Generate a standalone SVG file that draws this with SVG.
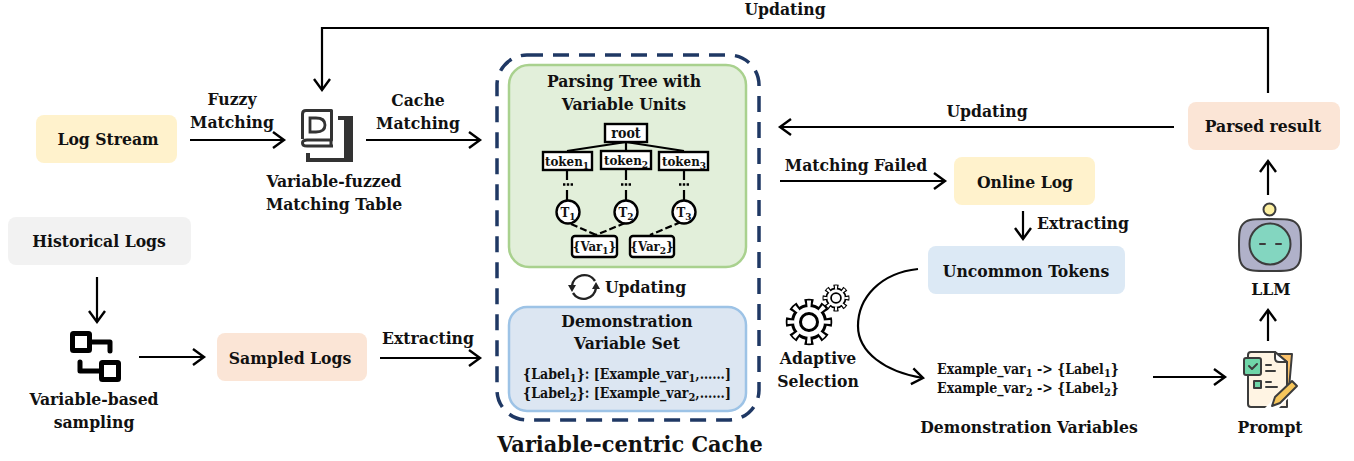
<svg xmlns="http://www.w3.org/2000/svg" width="1354" height="461" viewBox="0 0 1354 461">
<style>
text{font-family:"DejaVu Serif Condensed","DejaVu Serif","Liberation Serif",serif;font-weight:bold;fill:#111;text-anchor:middle;font-size:17.4px}
.s{font-size:10px}
.t{font-size:13.2px}
.e{font-size:14px}
.e .s{font-size:11px}
.conn{fill:none;stroke:#000;stroke-width:2.2;marker-end:url(#a)}
.tree{fill:none;stroke:#000;stroke-width:2.2}
.box{fill:#fff;stroke:#000;stroke-width:2.4}
.ic{stroke:#3c3c3c;stroke-width:2;stroke-linejoin:round;stroke-linecap:round}
</style>
<defs>
<marker id="a" markerUnits="userSpaceOnUse" markerWidth="18" markerHeight="20" refX="14" refY="10" orient="auto"><path d="M3 2 L14 10 L3 18" fill="none" stroke="#000" stroke-width="2.4"/></marker>
<g id="gear">
<circle r="18" fill="#000"/>
<circle r="20" fill="none" stroke="#000" stroke-width="6.5" pathLength="80" stroke-dasharray="5.4 4.6" stroke-dashoffset="2.7"/>
<circle r="15" fill="#fff"/>
<circle r="18" fill="none" stroke="#fff" stroke-width="7" pathLength="80" stroke-dasharray="2.6 7.4" stroke-dashoffset="1.3"/>
<circle r="8.500" fill="#fff" stroke="#000" stroke-width="3"/>
</g>
</defs>
<g id="connectors">
<path class="conn" d="M1268 93V28H322V90"/>
<path class="conn" d="M190 140H284"/>
<path class="conn" d="M366 140H480"/>
<path class="conn" d="M1174 127H780"/>
<path class="conn" d="M780 181H945"/>
<path class="conn" d="M1023 211V239"/>
<path class="conn" d="M97 277V322"/>
<path class="conn" d="M139 357H204"/>
<path class="conn" d="M380 358H480"/>
<path class="conn" d="M918 269C880 273 858 298 858 326C858 352 885 372 923 378"/>
<path class="conn" d="M1153 377H1225"/>
<path class="conn" d="M1268 341V310"/>
<path class="conn" d="M1268 195V161"/>
</g>
<g id="log-stream"><rect x="36" y="115" width="141" height="48" rx="8" fill="#fff2cc"/><text x="108" y="145">Log Stream</text></g>
<g id="historical-logs"><rect x="8" y="217" width="183" height="48" rx="8" fill="#f2f2f2"/><text x="99" y="247">Historical Logs</text></g>
<g id="sampled-logs"><rect x="217" y="333" width="150" height="48" rx="8" fill="#fbe5d6"/><text x="290" y="364">Sampled Logs</text></g>
<g id="online-log"><rect x="954" y="157" width="141" height="48" rx="8" fill="#fff2cc"/><text x="1025" y="188">Online Log</text></g>
<g id="uncommon-tokens"><rect x="928" y="246" width="197" height="48" rx="8" fill="#dce9f5"/><text x="1026" y="277">Uncommon Tokens</text></g>
<g id="parsed-result"><rect x="1188" y="102" width="152" height="48" rx="8" fill="#fbe5d6"/><text x="1263" y="132">Parsed result</text></g>
<g id="labels">
<text x="232" y="105">Fuzzy</text><text x="232" y="128">Matching</text>
<text x="418" y="106">Cache</text><text x="418" y="129">Matching</text>
<text x="785" y="15">Updating</text>
<text x="987" y="117">Updating</text>
<text x="856" y="171">Matching Failed</text>
<text x="1083" y="229">Extracting</text>
<text x="428" y="344">Extracting</text>
</g>
<g id="matching-table">
<path d="M302.500 139V114Q302.500 110.500 306 110.500H331.500V140H307Q302.500 140 302.500 143Q302.500 146 307 146H333" fill="none" stroke="#333" stroke-width="3" stroke-linejoin="round"/>
<path d="M331 140V146" stroke="#333" stroke-width="3" fill="none"/>
<path d="M338 116H353V162H306V153H310V158H344V120H338Z" fill="#333"/>
<path d="M310 118H316Q325 118 325 125Q325 132 316 132H310Z" fill="none" stroke="#333" stroke-width="2.800"/>
<text x="334" y="187">Variable-fuzzed</text><text x="334" y="210">Matching Table</text>
</g>
<g id="variable-sampling">
<rect x="72.500" y="333.500" width="17" height="17" fill="#fff" stroke="#000" stroke-width="5" rx="1"/>
<rect x="101.500" y="362.500" width="17" height="17" fill="#fff" stroke="#000" stroke-width="5" rx="1"/>
<path d="M92 342H110V351M80 362V371H99" fill="none" stroke="#000" stroke-width="5" stroke-linecap="round" stroke-linejoin="round"/>
<text x="94" y="405">Variable-based</text><text x="94" y="428">sampling</text>
</g>
<g id="cache">
<rect x="497" y="55" width="262" height="365" rx="30" fill="none" stroke="#1f3864" stroke-width="3.500" stroke-dasharray="16 10"/>
<text x="630" y="452" style="font-size:23.2px">Variable-centric Cache</text>
</g>
<g id="parsing-tree">
<rect x="509" y="65" width="237" height="202" rx="20" fill="#e2efda" stroke="#a9d18e" stroke-width="2.500"/>
<text x="624" y="87">Parsing Tree with</text><text x="624" y="110">Variable Units</text>
<path class="tree" d="M626 142L567 151M626 142V151M626 142L684 151M567 169V180M567 190V203M626 169V180M626 190V203M684 170V180M684 190V203"/>
<path class="tree" d="M571 224L596 235M625 223L596 235M681 222L650 235" stroke-dasharray="7 3"/>
<path d="M563 184.500h10M621 184.500h10M679 184.500h10" fill="none" stroke="#000" stroke-width="2.600" stroke-dasharray="2.400 1.400"/>
<rect class="box" x="605" y="124" width="42" height="18"/><text x="626" y="138" style="font-size:14px">root</text>
<rect class="box" x="543" y="152" width="49" height="18"/><text class="t" x="567" y="165.500">token<tspan class="s" dy="3">1</tspan></text>
<rect class="box" x="601" y="151" width="50" height="18"/><text class="t" x="626" y="164.500">token<tspan class="s" dy="3">2</tspan></text>
<rect class="box" x="659" y="152" width="49" height="18"/><text class="t" x="684" y="165.500">token<tspan class="s" dy="3">3</tspan></text>
<circle class="box" cx="568" cy="212" r="11.500"/><text class="t" x="568" y="217">T<tspan class="s" dy="3">1</tspan></text>
<circle class="box" cx="626" cy="212" r="11.500"/><text class="t" x="626" y="217">T<tspan class="s" dy="3">2</tspan></text>
<circle class="box" cx="684" cy="212" r="11.500"/><text class="t" x="684" y="217">T<tspan class="s" dy="3">3</tspan></text>
<rect class="box" x="572" y="236" width="45" height="21" rx="3"/><text class="t" x="594.500" y="251">{Var<tspan class="s" dy="3">1</tspan><tspan dy="-3">}</tspan></text>
<rect class="box" x="630" y="236" width="44" height="21" rx="3"/><text class="t" x="652" y="251">{Var<tspan class="s" dy="3">2</tspan><tspan dy="-3">}</tspan></text>
</g>
<g id="updating-cycle">
<path d="M572 286A12.500 12.500 0 0 1 595 281M596 288A12.500 12.500 0 0 1 573 293" fill="none" stroke="#222" stroke-width="2.400"/>
<path d="M568 285L576 285L572 292ZM592 289L600 289L596 282Z" fill="#222"/>
<text x="645.500" y="293">Updating</text>
</g>
<g id="demonstration-set">
<rect x="509" y="307" width="237" height="104" rx="18" fill="#dce6f2" stroke="#9dc3e6" stroke-width="2.500"/>
<text x="627" y="327">Demonstration</text><text x="627" y="349">Variable Set</text>
<text class="e" x="627" y="379">{Label<tspan class="s" dy="3">1</tspan><tspan dy="-3">}: [Example_var</tspan><tspan class="s" dy="3">1</tspan><tspan dy="-3">,……]</tspan></text>
<text class="e" x="627" y="398">{Label<tspan class="s" dy="3">2</tspan><tspan dy="-3">}: [Example_var</tspan><tspan class="s" dy="3">2</tspan><tspan dy="-3">,……]</tspan></text>
</g>
<g id="adaptive-selection">
<use href="#gear" transform="translate(809 322)"/>
<use href="#gear" transform="translate(836 298) scale(.58)"/>
<text x="818" y="364">Adaptive</text><text x="818" y="387">Selection</text>
</g>
<g id="demonstration-variables">
<text class="e" x="1028" y="374">Example_var<tspan class="s" dy="3">1</tspan><tspan dy="-3"> -&gt; {Label</tspan><tspan class="s" dy="3">1</tspan><tspan dy="-3">}</tspan></text>
<text class="e" x="1028" y="393">Example_var<tspan class="s" dy="3">2</tspan><tspan dy="-3"> -&gt; {Label</tspan><tspan class="s" dy="3">2</tspan><tspan dy="-3">}</tspan></text>
<text x="1029" y="433">Demonstration Variables</text>
</g>
<g id="llm">
<circle class="ic" cx="1269.500" cy="209.500" r="6" fill="#fdf0a0"/>
<path class="ic" d="M1270 219C1285 219 1292 219 1296 223C1301 227 1301 235 1301 245C1301 255 1301 263 1296 267C1292 271 1285 271 1270 271C1255 271 1248 271 1244 267C1239 263 1239 255 1239 245C1239 235 1239 227 1244 223C1248 219 1255 219 1270 219Z" fill="#b0b1c9" stroke-width="2.600"/>
<circle class="ic" cx="1270" cy="244" r="20.500" fill="#83d6c0" stroke-width="2.400"/>
<path class="ic" d="M1260 244H1265M1276 244H1281"/>
<text x="1271" y="295">LLM</text>
</g>
<g id="prompt">
<path class="ic" d="M1277 354H1292L1289 388H1277Z" fill="#fbc26a"/>
<path class="ic" d="M1248 355Q1248 352 1251 352H1275L1287 362V407H1251Q1248 407 1248 404Z" fill="#fff4e3"/>
<path class="ic" d="M1275 352V358Q1275 362 1279 362H1287Z" fill="#fff"/>
<rect class="ic" x="1244" y="358" width="17" height="17" rx="2" fill="#6fd6a8"/>
<path class="ic" d="M1249 366L1252 369L1257 364" fill="none"/>
<rect class="ic" x="1254" y="381" width="7" height="7" fill="#6fd6a8"/>
<path class="ic" d="M1266 365H1271M1266 371H1275M1266 382H1271M1266 387H1277" fill="none"/>
<path d="M1264 409L1294 378L1302 384L1278 409Z" fill="#fff"/>
<path class="ic" d="M1272 406L1275 397L1292 381L1297 386L1280 403Z" fill="#f7c65b"/>
<text x="1270" y="433">Prompt</text>
</g>
</svg>
